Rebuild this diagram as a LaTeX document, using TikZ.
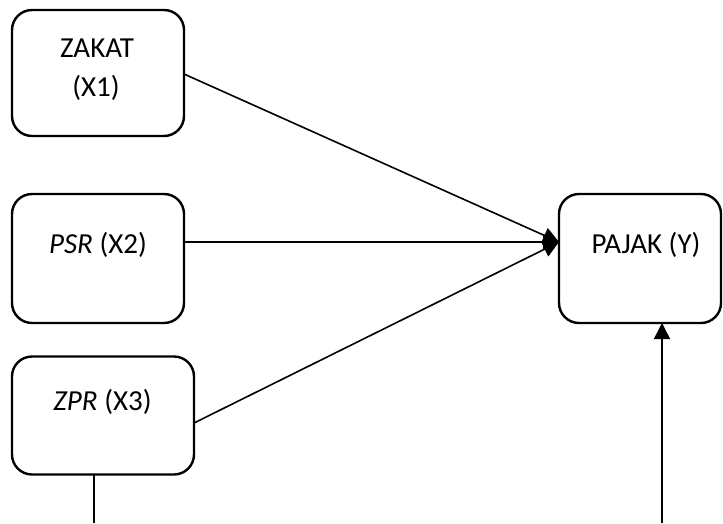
\documentclass[tikz,border=0pt]{standalone}
\usepackage{fontspec}
\setmainfont{Carlito}
\usetikzlibrary{arrows.meta}
\begin{document}
\begin{tikzpicture}[x=1pt,y=-1pt,
  box/.style={draw=black, line width=2.4pt, rounded corners=20pt, minimum width=#1, outer sep=0pt, inner sep=0pt},
  lbl/.style={anchor=base, inner sep=0pt, font=\fontsize{29}{39}\selectfont},
  conn/.style={draw=black, line width=1.6pt},
  arr/.style={conn, -{Triangle[length=16pt,width=16pt]}}]
\useasboundingbox (0,0) rectangle (723,523);
% boxes
\node[box=172pt, minimum height=126pt] (zakat) at (98,73) {};
\node[box=172pt, minimum height=129pt] (psr) at (98,258.5) {};
\node[box=182pt, minimum height=118pt] (zpr) at (103,415.5) {};
\node[box=162pt, minimum height=129pt] (pajak) at (640,258.5) {};
% labels
\node[lbl] (zakatA) at (97,57) {ZAKAT};
\node[lbl] (zakatB) at (96,96) {(X1)};
\node[lbl] (psrL) at (98,253) {\textit{PSR} (X2)};
\node[lbl] (zprL) at (102.5,410) {\textit{ZPR} (X3)};
\node[lbl] (pajakL) at (646,253) {PAJAK (Y)};
% free ends
\coordinate (bottomR) at (662,523);
\coordinate (bottomL) at (94,523);
% connectors
\draw[arr] ([yshift=-1pt]zakat.east) -- ([yshift=16.5pt]pajak.west);
\draw[arr] ([yshift=16.5pt]psr.east) -- ([yshift=16.5pt]pajak.west);
\draw[arr] ([yshift=-7.5pt]zpr.east) -- ([yshift=16.5pt]pajak.west);
\draw[arr] (bottomR) -- ([xshift=22pt]pajak.south);
\draw[conn] ([xshift=-9pt]zpr.south) -- (bottomL);
\end{tikzpicture}
\end{document}
